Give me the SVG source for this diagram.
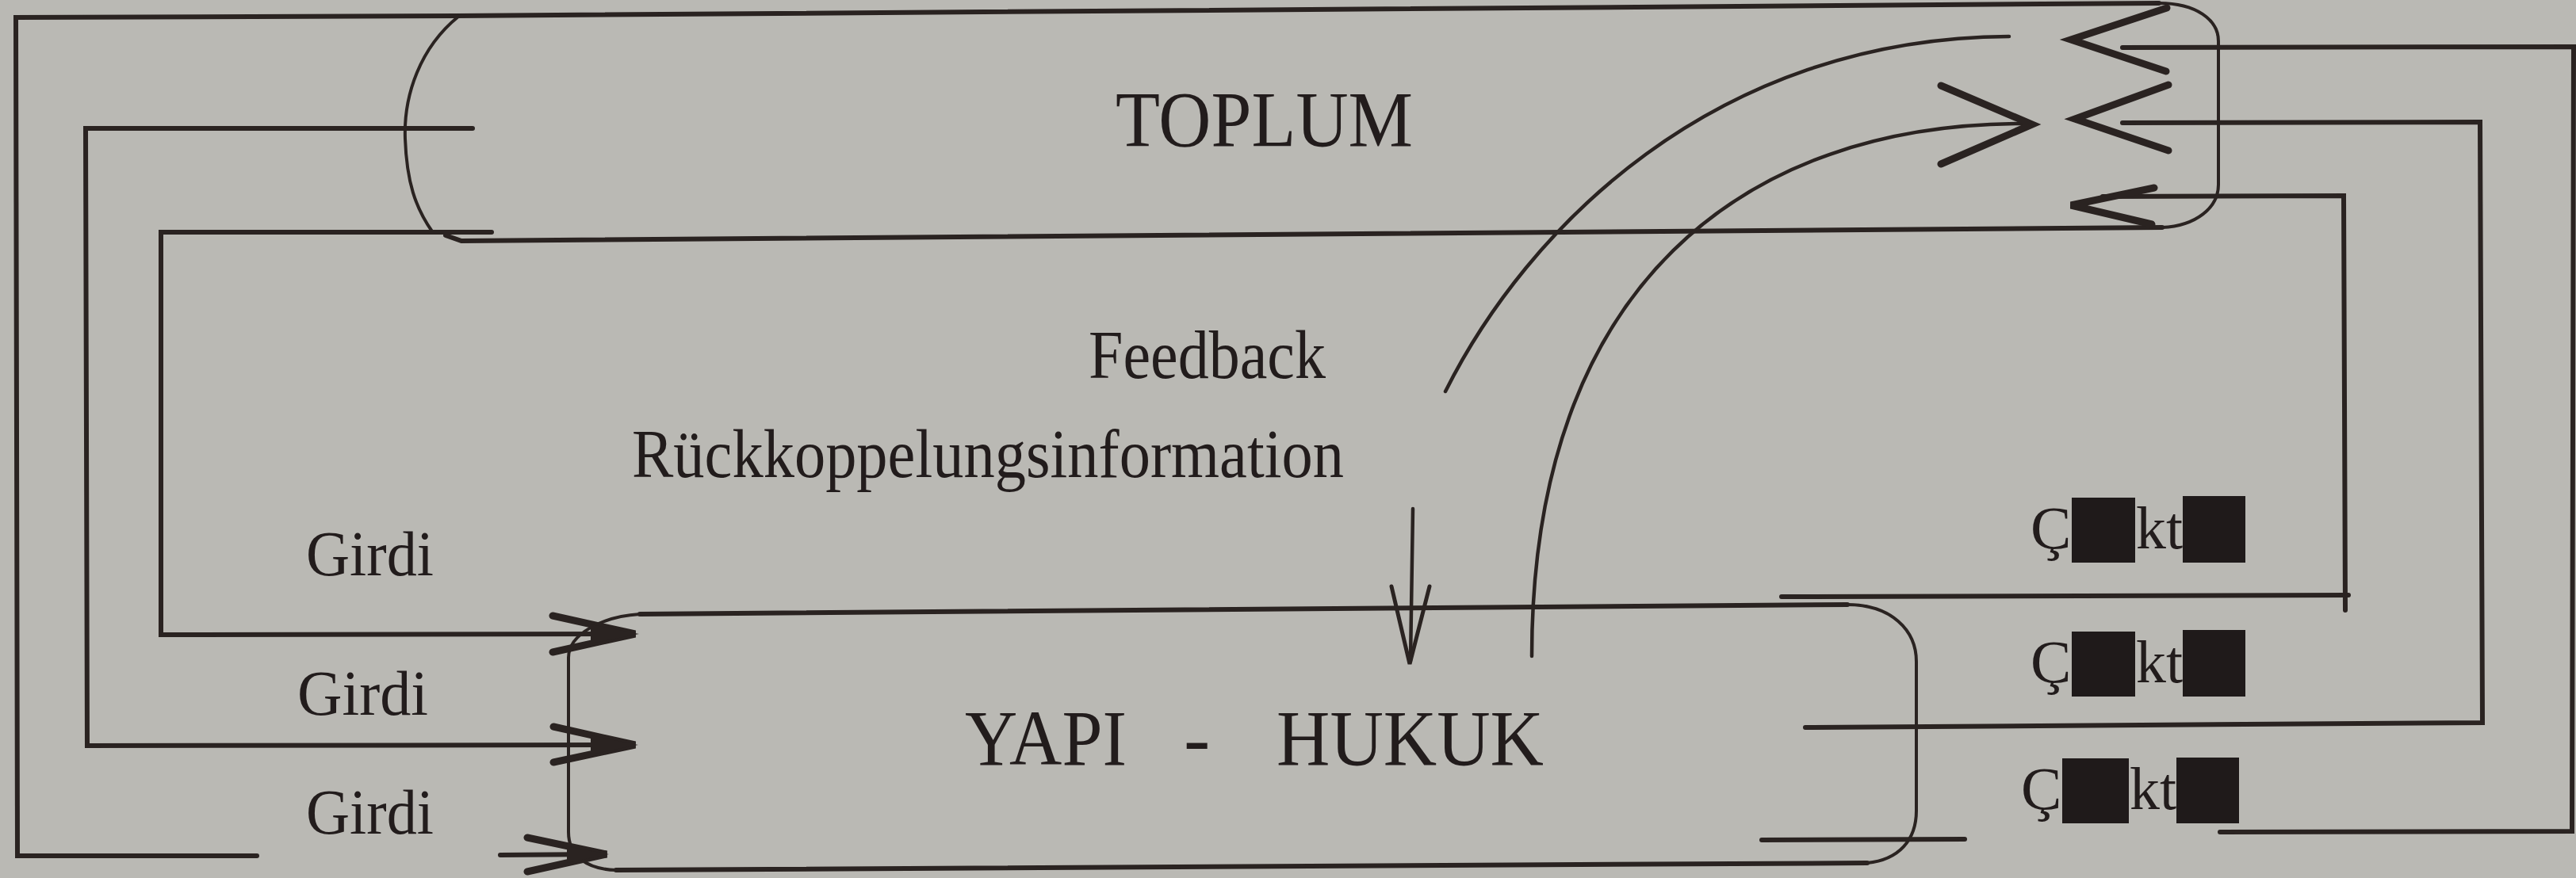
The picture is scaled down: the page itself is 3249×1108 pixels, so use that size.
<svg xmlns="http://www.w3.org/2000/svg" width="3249" height="1108" viewBox="0 0 3249 1108">
<style>
.bg{fill:#bab9b4}
.ln{fill:none;stroke:#2a2321;stroke-width:6;stroke-linecap:round;stroke-linejoin:miter}
.thin{fill:none;stroke:#2a2321;stroke-width:4.5;stroke-linecap:round}
.box{fill:none;stroke:#2a2321;stroke-width:4}
.head{fill:none;stroke:#2a2321;stroke-width:9;stroke-linecap:round;stroke-linejoin:miter}
.hthin{fill:none;stroke:#2a2321;stroke-width:5;stroke-linecap:round;stroke-linejoin:miter}
.hfill{fill:#2a2321}
.t{font-family:"Liberation Serif","Times New Roman",serif;fill:#221c1c}
.blk{fill:#1f1a1a}
</style>
<rect class="bg" width="3249" height="1108"/>

<g id="toplum">
  <path class="ln" d="M576,20 L2723,4"/>
  <path class="box" d="M2723,4 C2770,4 2798,25 2798,52 L2798,233 C2798,262 2770,285 2727,287"/>
  <path class="ln" d="M562,297 L582,304 L2727,287"/>
  <path class="box" d="M578,21 C530,60 509,120 511,175 C513,230 524,262 545,292"/>
  <text class="t" x="1407" y="184" font-size="100" textLength="375" lengthAdjust="spacingAndGlyphs">TOPLUM</text>
</g>

<g id="yapi-hukuk">
  <path class="ln" d="M807,775 L2330,763"/>
  <path class="box" d="M2330,763 C2385,763 2417,795 2417,835 L2417,1023 C2417,1060 2395,1085 2355,1089"/>
  <path class="ln" d="M2355,1089 L777,1098"/>
  <path class="box" d="M807,775 C760,778 717,800 717,830 L717,1050 C717,1080 740,1097 777,1098"/>
  <text class="t" y="965" font-size="100"><tspan x="1217" textLength="204" lengthAdjust="spacingAndGlyphs">YAPI</tspan> <tspan x="1493">-</tspan> <tspan x="1610" textLength="337" lengthAdjust="spacingAndGlyphs">HUKUK</tspan></text>
</g>

<g id="connectors">
  <path class="ln" d="M576,20 L20,22 L22,1080 L324,1080"/>
  <path class="ln" d="M631,1079 L755,1078"/>
  <polyline class="head" points="665,1057 765,1078 665,1100"/>
  <polygon class="hfill" points="715,1068 768,1078 715,1089"/>

  <path class="ln" d="M596,162 L108,162 L110,941 L790,940"/>
  <polyline class="head" points="698,917 801,940 698,962"/>
  <polygon class="hfill" points="745,928 805,940 745,952"/>

  <path class="ln" d="M620,293 L203,293 L203,801 L790,800"/>
  <polyline class="head" points="697,777 801,800 697,823"/>
  <polygon class="hfill" points="745,788 806,800 745,812"/>

  <path class="ln" d="M2247,753 L2962,751"/>
  <path class="ln" d="M2958,770 L2956,247 L2652,248"/>
  <polyline class="head" points="2717,237 2612,259 2714,283"/>

  <path class="ln" d="M2277,918 L3131,912 L3128,154 L2677,155"/>
  <polyline class="head" points="2735,107 2617,150 2735,190"/>

  <path class="ln" d="M2222,1060 L2478,1059"/>
  <path class="ln" d="M2800,1050 L3244,1049 L3246,59 L2677,60"/>
  <polyline class="head" points="2733,10 2612,50 2732,90"/>

  <path class="thin" d="M1823,494 C1925,290 2160,48 2534,46"/>
  <path class="thin" d="M1932,828 C1932,360 2200,155 2555,156"/>
  <polyline class="head" points="2448,108 2563,157 2448,207"/>

  <path class="thin" d="M1782,642 L1779,834"/>
  <polyline class="hthin" points="1755,740 1778,838 1803,740"/>
</g>

<g id="labels">
  <text class="t" x="1373" y="477" font-size="86" textLength="299" lengthAdjust="spacingAndGlyphs">Feedback</text>
  <text class="t" x="797" y="602" font-size="86" textLength="898" lengthAdjust="spacingAndGlyphs">Rückkoppelungsinformation</text>
  <text class="t" x="386" y="726" font-size="80" textLength="161" lengthAdjust="spacingAndGlyphs">Girdi</text>
  <text class="t" x="375" y="902" font-size="80" textLength="165" lengthAdjust="spacingAndGlyphs">Girdi</text>
  <text class="t" x="386" y="1052" font-size="80" textLength="161" lengthAdjust="spacingAndGlyphs">Girdi</text>
</g>

<g id="ciktilar">
  <g id="cikti1">
    <text class="t" x="2561" y="692" font-size="77">Ç</text>
    <rect class="blk" x="2613" y="628" width="80" height="82"/>
    <text class="t" x="2694" y="692" font-size="77" textLength="59" lengthAdjust="spacingAndGlyphs">kt</text>
    <rect class="blk" x="2753" y="626" width="79" height="84"/>
  </g>
  <g id="cikti2">
    <text class="t" x="2561" y="861" font-size="77">Ç</text>
    <rect class="blk" x="2613" y="797" width="80" height="82"/>
    <text class="t" x="2694" y="861" font-size="77" textLength="59" lengthAdjust="spacingAndGlyphs">kt</text>
    <rect class="blk" x="2753" y="795" width="79" height="84"/>
  </g>
  <g id="cikti3">
    <text class="t" x="2549" y="1021" font-size="77">Ç</text>
    <rect class="blk" x="2601" y="957" width="84" height="82"/>
    <text class="t" x="2686" y="1021" font-size="77" textLength="59" lengthAdjust="spacingAndGlyphs">kt</text>
    <rect class="blk" x="2745" y="956" width="79" height="83"/>
  </g>
</g>
</svg>
